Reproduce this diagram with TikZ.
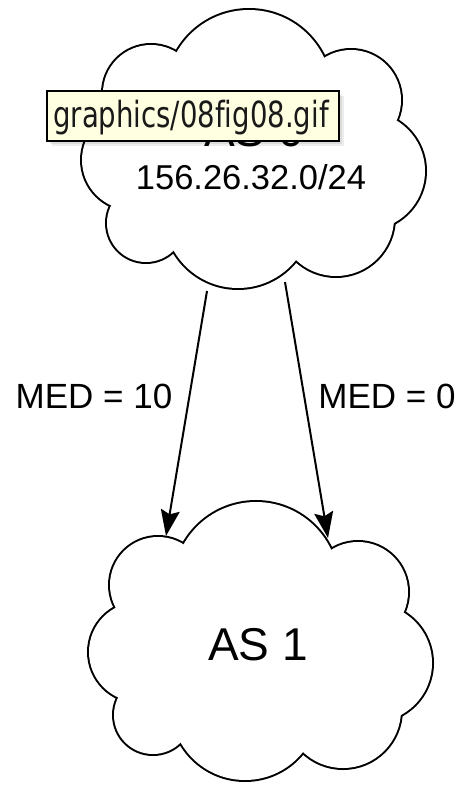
\documentclass[tikz,border=0pt]{standalone}
\usepackage{fontspec}
\usepackage{graphicx}
\setmainfont{Liberation Sans}
\newfontfamily\tipfont[Ligatures=NoCommon]{DejaVu Sans}
\usetikzlibrary{arrows.meta}
\definecolor{tipfill}{HTML}{FFFFE1}

\tikzset{
  % cloud = union of eight lobes: a double-width stroke of every lobe,
  % then a white fill over all lobes and over the polygon of their centres
  cloudshape/.pic={
    \foreach \cx/\cy/\r in {167/83/83, 269/90/50, 284/161/59, 254/208/58,
                            156/204/74, 64/213/39, 50/150/50, 69/83/48}
      \draw[line width=4pt] (\cx,\cy) circle[radius=\r pt];
    \foreach \cx/\cy/\r in {167/83/83, 269/90/50, 284/161/59, 254/208/58,
                            156/204/74, 64/213/39, 50/150/50, 69/83/48}
      \fill[white] (\cx,\cy) circle[radius=\r pt];
    \fill[white] (167,83) -- (269,90) -- (284,161) -- (254,208) -- (156,204)
      -- (64,213) -- (50,150) -- (69,83) -- cycle;
  },
  bigtext/.style={font=\fontsize{46}{50}\selectfont, anchor=base, inner sep=0pt},
  iptext/.style={font=\fontsize{34.5}{38}\selectfont, anchor=base, inner sep=0pt},
  medtext/.style={font=\fontsize{35}{38}\selectfont, anchor=base, inner sep=0pt},
  link/.style={line width=2pt, -{Stealth[length=26pt, width=19pt, inset=4pt]}},
  tipbox/.style={draw, line width=1.6pt, fill=tipfill, anchor=north west,
    minimum width=292pt, minimum height=50pt, inner sep=0pt},
  tiptext/.style={font=\tipfont\fontsize{36}{40}\selectfont, anchor=base west,
    inner sep=0pt, text=black!90},
}

\begin{document}
\begin{tikzpicture}[x=1pt, y=-1pt]
  \useasboundingbox (0,0) rectangle (462,786);

  % the two autonomous systems
  \pic at (82,10) {cloudshape};
  \pic at (89,502) {cloudshape};

  \node[bigtext] (as0) at (254,147) {AS 0};
  \node[iptext] (prefix) at (251,190) {156.26.32.0/24};
  \node[bigtext] (as1) at (258,660) {AS 1};

  % file-name tooltip lying over the upper cloud, with its soft shadow
  \foreach \d in {2,4,6}
    \fill[black, opacity=0.07] (46+\d,90+\d) rectangle (338+\d,140+\d);
  \node[tipbox] (tip) at (46,90) {};
  \node[tiptext] (tiplabel) at (53,128) {\scalebox{0.765}[1]{graphics/08fig08.gif}};

  % links between the two systems
  \coordinate (as0-left) at (207,291);
  \coordinate (as0-right) at (285,282);
  \coordinate (as1-left) at (166,536);
  \coordinate (as1-right) at (328,538);
  \draw[link] (as0-left) -- (as1-left);
  \draw[link] (as0-right) -- (as1-right);

  \node[medtext] (med10) at (94,408) {MED = 10};
  \node[medtext] (med0) at (387,408) {MED = 0};
\end{tikzpicture}
\end{document}
